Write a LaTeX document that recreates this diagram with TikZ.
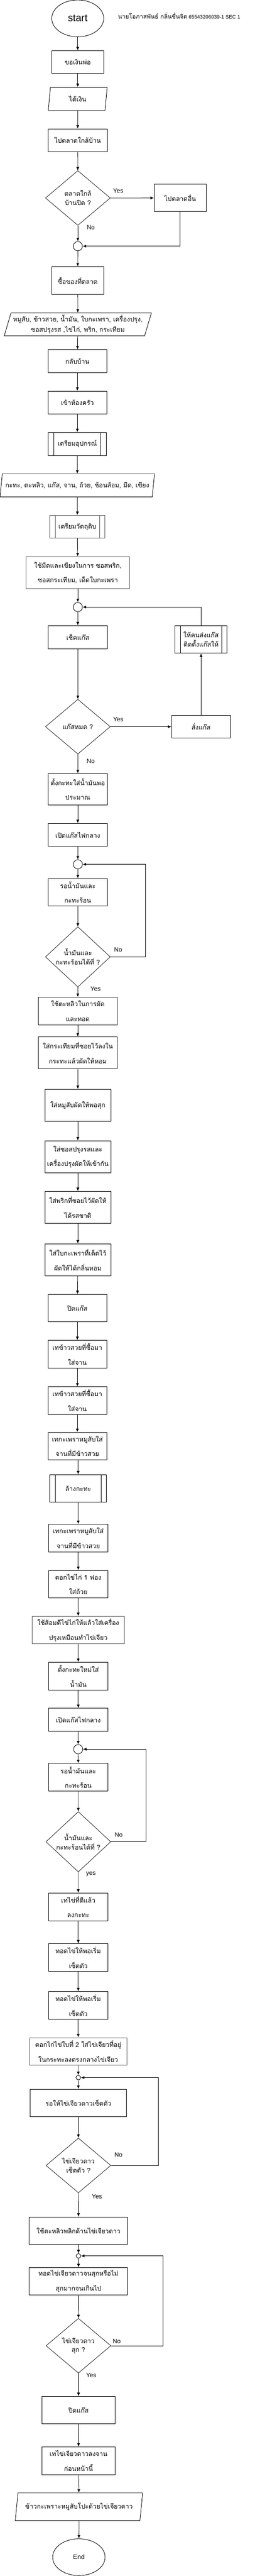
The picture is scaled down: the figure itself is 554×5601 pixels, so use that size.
\documentclass[tikz,border=0pt]{standalone}
\usepackage{fontspec}
\setmainfont{Liberation Sans}
\newfontfamily\thaifont[Script=Thai]{Loma}
\usetikzlibrary{shapes.geometric,arrows.meta}

\begin{document}
\begin{tikzpicture}[x=1pt,y=-1pt,line width=1pt,
    proc/.style={draw,rectangle,minimum height=50pt,inner sep=1pt,align=center,
        font=\thaifont\fontsize{14}{32}\selectfont},
    grayproc/.style={proc,draw=black!65},
    subproc/.style={proc,path picture={
        \draw [line width=1pt] ([xshift=12pt]path picture bounding box.north west)
            -- ([xshift=12pt]path picture bounding box.south west);
        \draw [line width=1pt] ([xshift=-12pt]path picture bounding box.north east)
            -- ([xshift=-12pt]path picture bounding box.south east);}},
    io/.style={draw,trapezium,trapezium left angle=70,trapezium right angle=110,
        trapezium stretches body,minimum height=50pt,inner sep=0pt,align=center,
        font=\thaifont\fontsize{14}{22}\selectfont},
    dec/.style={draw,diamond,minimum width=141pt,minimum height=119pt,inner sep=0pt,
        line width=0.8pt,align=center,font=\thaifont\fontsize{14}{20}\selectfont},
    term/.style={draw,ellipse,minimum width=113pt,minimum height=80pt,inner sep=0pt},
    jpoint/.style={draw,circle,minimum size=20pt,inner sep=0pt},
    smalljpoint/.style={jpoint,minimum size=10pt},
    conn/.style={-{Latex[length=7.5pt,width=6.5pt]}},
    lbl/.style={inner sep=0pt,font=\fontsize{13.5}{16}\selectfont}]

    \useasboundingbox (0,0) rectangle (554,5601);

    \node [term,font=\fontsize{22}{26}\selectfont] (start) at (169,40) {start};
    \node [font=\fontsize{11}{13}\selectfont] (author) at (389.5,34)
        {{\thaifont\fontsize{13}{13}\selectfont นายโอภาสพันธ์ กลิ่นชื่นจิต} 65543206039-1 SEC 1};
    \node [proc,minimum width=113pt] (box1) at (169,135) {ขอเงินพ่อ};
    \node [io,minimum width=128pt] (io1) at (169,215) {ได้เงิน};
    \node [proc,minimum width=128pt] (box2) at (169,305) {ไปตลาดใกล้บ้าน};
    \node [dec] (dec1) at (169.3,430.5) {ตลาดใกล้\\บ้านปิด ?};
    \node [proc,minimum width=113pt,minimum height=60pt] (box3) at (391.8,430.3) {ไปตลาดอื่น};
    \node [jpoint] (join1) at (169.3,535.3) {};
    \node [proc,minimum width=113pt,minimum height=60pt] (box4) at (169,610) {ซื้อของที่ตลาด};
    \node [io,minimum width=320pt] (io2) at (169.2,705.3)
        {หมูสับ, ข้าวสวย, น้ำมัน, ใบกะเพรา, เครื่องปรุง,\\ซอสปรุงรส ,ไข่ไก่, พริก, กระเทียม};
    \node [proc,minimum width=128pt] (box5) at (168.2,785.3) {กลับบ้าน};
    \node [proc,minimum width=128pt] (box6) at (168.2,875.3) {เข้าห้องครัว};
    \node [subproc,minimum width=126pt] (sub1) at (168.2,965.3) {เตรียมอุปกรณ์};
    \node [io,minimum width=336pt] (io3) at (168,1055.3)
        {กะทะ, ตะหลิว, แก๊ส, จาน, ถ้วย, ช้อนส้อม, มีด, เขียง};
    \node [subproc,draw=black!65,minimum width=120pt] (sub2) at (168.3,1145.3) {เตรียมวัตถุดิบ};
    \node [grayproc,minimum width=225pt,minimum height=70pt] (box7) at (169.3,1245.3)
        {ใช้มีดและเขียงในการ ซอสพริก,\\ซอสกระเทียม, เด็ดใบกะเพรา};
    \node [jpoint] (join2) at (169.3,1320) {};
    \node [proc,minimum width=128pt] (box8) at (169.2,1385.3) {เช็คแก๊ส};
    \node [subproc,minimum width=113pt,minimum height=60pt,
        font=\thaifont\fontsize{14}{20}\selectfont] (sub3) at (437.2,1390.3)
        {ให้คนส่งแก๊ส\\ติดตั้งแก๊สให้};
    \node [dec] (dec2) at (169.3,1580) {แก๊สหมด ?};
    \node [proc,minimum width=128pt] (box9) at (437.2,1580) {สั่งแก๊ส};
    \node [proc,minimum width=128pt,minimum height=68pt] (box10) at (169.2,1716)
        {ตั้งกะทะใส่น้ำมันพอ\\ประมาณ};
    \node [proc,minimum width=128pt] (box11) at (169.2,1815.3) {เปิดแก๊สไฟกลาง};
    \node [jpoint] (join3) at (169.3,1879.3) {};
    \node [proc,minimum width=128pt,minimum height=60pt] (box12) at (169.2,1940.3)
        {รอน้ำมันและ\\กะทะร้อน};
    \node [dec] (dec3) at (169.3,2080.5) {น้ำมันและ\\กะทะร้อนได้ที่ ?};
    \node [proc,minimum width=172pt,minimum height=60pt] (box13) at (169.2,2198.3)
        {ใช้ตะหลิวในการผัด\\และทอด};
    \node [proc,minimum width=172pt,minimum height=70pt] (box14) at (169.2,2289.3)
        {ใส่กระเทียมที่ซอยไว้ลงใน\\กระทะแล้วผัดให้หอม};
    \node [proc,minimum width=143pt,minimum height=70pt] (box15) at (169.3,2403.3)
        {ใส่หมูสับผัดให้พอสุก};
    \node [proc,minimum width=143pt,minimum height=70pt] (box16) at (169.3,2515.3)
        {ใส่ซอสปรุงรสและ\\เครื่องปรุงผัดให้เข้ากัน};
    \node [proc,minimum width=143pt,minimum height=70pt] (box17) at (169.3,2625.3)
        {ใส่พริกที่ซอยไว้ผัดให้\\ได้รสชาติ};
    \node [proc,minimum width=143pt,minimum height=70pt] (box18) at (169.3,2739.3)
        {ใส่ใบกะเพราที่เด็ดไว้\\ผัดให้ได้กลิ่นหอม};
    \node [proc,minimum width=128pt,minimum height=60pt] (box19) at (168.2,2844.3) {ปิดแก๊ส};
    \node [proc,minimum width=128pt,minimum height=60pt] (box20) at (168.2,2944.3)
        {เทข้าวสวยที่ซื้อมา\\ใส่จาน};
    \node [proc,minimum width=128pt,minimum height=60pt] (box21) at (168.2,3045.3)
        {เทข้าวสวยที่ซื้อมา\\ใส่จาน};
    \node [proc,minimum width=128pt,minimum height=60pt] (box22) at (168.2,3144.3)
        {เทกะเพราหมูสับใส่\\จานที่มีข้าวสวย};
    \node [subproc,minimum width=123pt,minimum height=60pt] (sub4) at (170,3236.3) {ล้างกะทะ};
    \node [proc,minimum width=128pt,minimum height=60pt] (box23) at (170.2,3344.3)
        {เทกะเพราหมูสับใส่\\จานที่มีข้าวสวย};
    \node [proc,minimum width=128pt,minimum height=60pt] (box24) at (170.2,3444.3)
        {ตอกไข่ไก่ 1 ฟอง\\ใส่ถ้วย};
    \node [grayproc,minimum width=201pt,minimum height=60pt] (box25) at (170,3544.3)
        {ใช้ส้อมตีไข่ไก่ให้แล้วใส่เครื่อง\\ปรุงเหมือนทำไข่เจียว};
    \node [proc,minimum width=128pt,minimum height=60pt] (box26) at (170.2,3644.3)
        {ตั้งกะทะใหม่ใส่\\น้ำมัน};
    \node [proc,minimum width=128pt] (box27) at (170.2,3739.3) {เปิดแก๊สไฟกลาง};
    \node [jpoint] (join4) at (170,3803.3) {};
    \node [proc,minimum width=128pt,minimum height=60pt] (box28) at (170.2,3864.3)
        {รอน้ำมันและ\\กะทะร้อน};
    \node [dec] (dec4) at (170.3,4004.5) {น้ำมันและ\\กะทะร้อนได้ที่ ?};
    \node [proc,minimum width=128pt,minimum height=60pt] (box29) at (170.2,4146)
        {เทไข่ที่ตีแล้ว\\ลงกะทะ};
    \node [proc,minimum width=128pt,minimum height=60pt] (box30) at (170.2,4256.3)
        {ทอดไข่ให้พอเริ่ม\\เซ็ตตัว};
    \node [proc,minimum width=128pt,minimum height=60pt] (box31) at (170.2,4360.3)
        {ทอดไข่ให้พอเริ่ม\\เซ็ตตัว};
    \node [grayproc,minimum width=211pt,minimum height=60pt] (box32) at (170.2,4460.3)
        {ตอกไก่ไข่ใบที่ 2 ใส่ไข่เจียวที่อยู่\\ในกระทะลงตรงกลางไข่เจียว};
    \node [smalljpoint] (join5) at (170.3,4517.3) {};
    \node [proc,minimum width=210pt,minimum height=60pt] (box33) at (170.5,4572.3)
        {รอให้ไข่เจียวดาวเซ็ตตัว};
    \node [dec] (dec5) at (170.5,4708.3) {ไข่เจียวดาว\\เซ็ตตัว ?};
    \node [proc,minimum width=214pt,minimum height=60pt] (box34) at (170.7,4850.3)
        {ใช้ตะหลิวพลิกด้านไข่เจียวดาว};
    \node [smalljpoint] (join6) at (170.7,4905) {};
    \node [proc,minimum width=214pt,minimum height=60pt] (box35) at (170.7,4960.3)
        {ทอดไข่เจียวดาวจนสุกหรือไม่\\สุกมากจนเกินไป};
    \node [dec] (dec6) at (170.5,5100.3) {ไข่เจียวดาว\\สุก ?};
    \node [proc,minimum width=159pt,minimum height=60pt] (box36) at (170.8,5240.3) {ปิดแก๊ส};
    \node [proc,minimum width=159pt,minimum height=60pt] (box37) at (170.8,5350.3)
        {เทไข่เจียวดาวลงจาน\\ก่อนหน้านี้};
    \node [io,minimum width=277pt,minimum height=60pt] (io4) at (171.7,5450.3)
        {ข้าวกะเพราะหมูสับโปะด้วยไข่เจียวดาว};
    \node [term,minimum width=114pt,font=\fontsize{14}{17}\selectfont] (stop) at (171.5,5560) {End};

    \draw [conn] (start) -- (box1);
    \draw [conn] (box1) -- (io1);
    \draw [conn] (io1) -- (box2);
    \draw [conn] (box2) -- (dec1);
    \draw [conn] (dec1) -- node [lbl,pos=0.18,above=10pt] {Yes} (box3);
    \draw [conn] (dec1) -- node [lbl,pos=0.13,right=19pt] {No} (join1);
    \draw [conn] (box3) |- (join1);
    \draw [conn] (join1) -- (box4);
    \draw [conn] (box4) -- (io2);
    \draw [conn] (io2) -- (box5);
    \draw [conn] (box5) -- (box6);
    \draw [conn] (box6) -- (sub1);
    \draw [conn] (sub1) -- (io3);
    \draw [conn] (io3) -- (sub2);
    \draw [conn] (sub2) -- (box7);
    \draw [conn] (box7) -- (join2);
    \draw [conn] (join2) -- (box8);
    \draw [conn] (box8) -- (dec2);
    \draw [conn] (dec2) -- node [lbl,pos=0.13,above=10pt] {Yes} (box9);
    \draw [conn] (box9) -- (sub3);
    \draw [conn] (sub3) |- (join2);
    \draw [conn] (dec2) -- node [lbl,pos=0.37,right=19pt] {No} (box10);
    \draw [conn] (box10) -- (box11);
    \draw [conn] (box11) -- (join3);
    \draw [conn] (join3) -- (box12);
    \draw [conn] (box12) -- (dec3);
    \draw [conn] (dec3.east) -- node [lbl,pos=0.22,above=10pt] {No} ++(76.2,0) |- (join3);
    \draw [conn] (dec3) -- node [lbl,pos=0.18,right=27pt] {Yes} (box13);
    \draw [conn] (box13) -- (box14);
    \draw [conn] (box14) -- (box15);
    \draw [conn] (box15) -- (box16);
    \draw [conn] (box16) -- (box17);
    \draw [conn] (box17) -- (box18);
    \draw [conn] (box18) -- (box19);
    \draw [conn] (box19) -- (box20);
    \draw [conn] (box20) -- (box21);
    \draw [conn] (box21) -- (box22);
    \draw [conn] (box22.south -| sub4.north) -- (sub4.north);
    \draw [conn] (sub4) -- (box23);
    \draw [conn] (box23) -- (box24);
    \draw [conn] (box24) -- (box25);
    \draw [conn] (box25) -- (box26);
    \draw [conn] (box26) -- (box27);
    \draw [conn] (box27) -- (join4);
    \draw [conn] (join4) -- (box28);
    \draw [conn] (box28) -- (dec4);
    \draw [conn] (dec4.east) -- node [lbl,pos=0.22,above=10pt] {No} ++(76.2,0) |- (join4);
    \draw [conn] (dec4) -- node [lbl,pos=0.1,right=16.5pt] {yes} (box29);
    \draw [conn] (box29) -- (box30);
    \draw [conn] (box30) -- (box31);
    \draw [conn] (box31) -- (box32);
    \draw [conn] (box32) -- (join5);
    \draw [conn] (join5) -- (box33);
    \draw [conn] (box33) -- (dec5);
    \draw [conn] (dec5.east) -- node [lbl,pos=0.155,above=18pt] {No} ++(103.3,0) |- (join5);
    \draw [conn] (dec5) -- node [lbl,pos=0.14,right=28.7pt] {Yes} (box34);
    \draw [conn] (box34) -- (join6);
    \draw [conn] (join6) -- (box35);
    \draw [conn] (box35) -- (dec6);
    \draw [conn] (dec6.east) -- node [lbl,pos=0.11,above=5pt] {No} ++(112.7,0) |- (join6);
    \draw [conn] (dec6) -- node [lbl,pos=0.1,right=16.3pt] {Yes} (box36);
    \draw [conn] (box36) -- (box37);
    \draw [conn] (box37) -- (io4);
    \draw [conn] (io4) -- (stop);

\end{tikzpicture}
\end{document}
